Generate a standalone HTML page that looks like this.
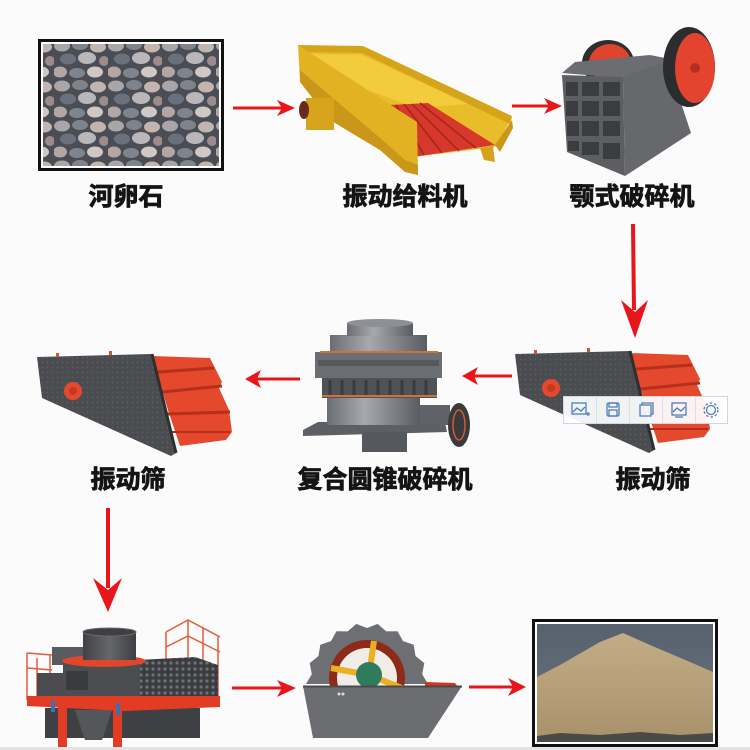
<!DOCTYPE html>
<html><head><meta charset="utf-8">
<style>
html,body{margin:0;padding:0;background:#fbfbfb;}
svg{display:block}
text{font-family:"Liberation Sans","Noto Sans CJK SC","WenQuanYi Zen Hei",sans-serif;font-weight:bold;font-size:25px;fill:#141414;stroke:#141414;stroke-width:0.8px;text-anchor:middle}
</style></head><body>
<svg width="750" height="750" viewBox="0 0 750 750" xmlns="http://www.w3.org/2000/svg">
<defs>
<pattern id="peb" width="54" height="40" patternUnits="userSpaceOnUse">
<rect width="54" height="40" fill="#4a4d53"/>
<ellipse cx="8" cy="6" rx="8" ry="5.5" fill="#a8a6a8"/>
<ellipse cx="26" cy="5" rx="8" ry="5" fill="#7f848c"/>
<ellipse cx="44" cy="7" rx="8" ry="5.5" fill="#c2b5b0"/>
<ellipse cx="14" cy="19" rx="8" ry="5.5" fill="#6a717c"/>
<ellipse cx="33" cy="18" rx="9" ry="6" fill="#b9b7ba"/>
<ellipse cx="50" cy="21" rx="5" ry="5" fill="#9d8a8a"/>
<ellipse cx="6" cy="32" rx="7" ry="5.5" fill="#b3a7a5"/>
<ellipse cx="23" cy="33" rx="8" ry="5" fill="#7e858f"/>
<ellipse cx="41" cy="32" rx="8" ry="5.5" fill="#d0c8c4"/>
</pattern>
<pattern id="holes" width="6" height="6" patternUnits="userSpaceOnUse">
<rect width="6" height="6" fill="#3b3c3f"/><circle cx="3" cy="3" r="1.6" fill="#6f7175"/>
</pattern>
<pattern id="dots" width="5" height="5" patternUnits="userSpaceOnUse">
<rect width="5" height="5" fill="#4b4c50"/><circle cx="2.5" cy="2.5" r="0.7" fill="#606266"/>
</pattern>
<linearGradient id="cyl" x1="0" x2="1"><stop offset="0" stop-color="#6a6e74"/><stop offset="0.4" stop-color="#a6aaaf"/><stop offset="1" stop-color="#595d63"/></linearGradient>
<linearGradient id="cyl2" x1="0" x2="1"><stop offset="0" stop-color="#414245"/><stop offset="0.5" stop-color="#66676a"/><stop offset="1" stop-color="#3e3f42"/></linearGradient>
<linearGradient id="sky" x1="0" y1="0" x2="0" y2="1"><stop offset="0" stop-color="#56616d"/><stop offset="1" stop-color="#6d7782"/></linearGradient>
<linearGradient id="sand" x1="0" y1="0" x2="0" y2="1"><stop offset="0" stop-color="#c2ad86"/><stop offset="1" stop-color="#a8916a"/></linearGradient>
<g id="vs">
<polygon points="152,356 210,358 214,366 222,382 219,388 229,410 232,432 226,440 180,446 168,410" fill="#e4492d"/>
<polyline points="158,372 214,368" stroke="#b5301c" stroke-width="3" fill="none"/>
<polyline points="162,392 222,386" stroke="#b5301c" stroke-width="3" fill="none"/>
<polyline points="167,414 230,412" stroke="#b5301c" stroke-width="3" fill="none"/>
<polyline points="172,432 230,432" stroke="#b5301c" stroke-width="2" fill="none"/>
<polygon points="37,357 152,354 176,453 171,456 42,398" fill="url(#dots)"/>
<line x1="152" y1="354" x2="176" y2="453" stroke="#2e2f31" stroke-width="3"/>
<rect x="56" y="353" width="3" height="4" fill="#d0553a"/>
<rect x="109" y="351" width="3" height="4" fill="#d0553a"/>
<circle cx="73" cy="391" r="9" fill="#e4492d"/><circle cx="73" cy="391" r="4" fill="#c23a22"/>
</g>
</defs>

<!-- pebbles -->
<rect x="39.5" y="40.5" width="183" height="129" fill="#fff" stroke="#111" stroke-width="3"/>
<rect x="43" y="44" width="176" height="122" fill="url(#peb)"/>

<!-- vibrating feeder -->
<polygon points="300,50 363,48 512,118 495,147 413,157 380,130 300,80" fill="#e9bc2a"/>
<polygon points="298,45 363,46 512,116 510,124 362,53 300,52" fill="#d6a41a"/>
<polygon points="305,54 362,55 468,104 415,108 322,72" fill="#f2cc3c"/>
<polygon points="390,105 428,103 495,145 413,157" fill="#d6392b"/>
<g stroke="#a82418" stroke-width="1.5">
<line x1="396" y1="105" x2="424" y2="155"/><line x1="404" y1="104" x2="442" y2="153"/>
<line x1="412" y1="104" x2="459" y2="151"/><line x1="420" y1="103" x2="476" y2="148"/>
</g>
<polygon points="298,45 417,122 418,175 405,172 380,150 330,120 300,82" fill="#e2b222"/>
<polygon points="300,70 380,138 405,160 418,165 418,175 405,172 380,150 330,120 300,82" fill="#c9981a"/>
<polygon points="495,145 512,120 513,128 500,152" fill="#c9981a"/>
<polygon points="480,148 493,146 495,162 484,160" fill="#d4a31c"/>
<rect x="306" y="98" width="28" height="32" fill="#d8a41c"/>
<ellipse cx="304" cy="110" rx="5" ry="9" fill="#6b2a1c"/>

<!-- jaw crusher -->
<ellipse cx="608" cy="63" rx="26" ry="23" fill="#2e2f31"/>
<ellipse cx="610" cy="63" rx="21" ry="19" fill="#e0442f"/>
<polygon points="562,73 575,62 650,55 665,58 665,75 623,78" fill="#6b6d71"/>
<polygon points="623,77 665,62 680,100 691,133 625,176" fill="#66686c"/>
<polygon points="562,75 623,77 625,176 567,152" fill="#5c5e62"/>
<g fill="#3a3c3f">
<rect x="566" y="82" width="12" height="14"/><rect x="582" y="82" width="17" height="14"/><rect x="603" y="82" width="17" height="14"/>
<rect x="566" y="101" width="12" height="15"/><rect x="582" y="101" width="17" height="15"/><rect x="603" y="101" width="17" height="15"/>
<rect x="567" y="121" width="12" height="15"/><rect x="582" y="121" width="17" height="15"/><rect x="603" y="121" width="17" height="15"/>
<rect x="568" y="141" width="11" height="10"/><rect x="582" y="142" width="17" height="13"/><rect x="603" y="143" width="17" height="16"/>
</g>
<ellipse cx="689" cy="67" rx="26" ry="40" fill="#2b2c2e"/>
<ellipse cx="695" cy="68" rx="20" ry="35" fill="#e3432f"/>
<circle cx="695" cy="68" r="5" fill="#b33020"/>

<!-- labels row 1 -->
<text x="126" y="205">河卵石</text>
<text x="405" y="205">振动给料机</text>
<text x="632" y="205">颚式破碎机</text>

<!-- arrows -->
<g fill="#e8161b" stroke="none">
<rect x="233" y="106.5" width="50" height="3"/>
<polygon points="295,108 277,100 282,108 277,116"/>
<rect x="512" y="104.5" width="38" height="3"/>
<polygon points="562,106 544,98 549,106 544,114"/>
<polygon points="631,224 635,224 636,310 632,310"/>
<polygon points="635,338 621,300 635,312 648,300"/>
<rect x="474" y="374.5" width="38" height="3"/>
<polygon points="462,376 478,367 474,376 478,385"/>
<rect x="257" y="377.5" width="43" height="3"/>
<polygon points="245,379 261,370 257,379 261,388"/>
<rect x="106" y="508" width="4" height="80"/>
<polygon points="108,612 93,578 108,590 122,578"/>
<rect x="232" y="686.5" width="50" height="3"/>
<polygon points="296,688 277,680 282,688 277,697"/>
<rect x="469" y="685.5" width="44" height="3"/>
<polygon points="526,687 508,678 513,687 508,696"/>
</g>

<!-- vibrating screens -->
<use href="#vs"/>
<use href="#vs" transform="translate(478,-3)"/>

<!-- cone crusher -->
<polygon points="303,430 318,422 445,422 447,432 303,436" fill="#5c5f64"/>
<rect x="362" y="432" width="45" height="20" fill="#55585d"/>
<rect x="327" y="398" width="93" height="27" fill="url(#cyl)"/>
<rect x="420" y="405" width="30" height="20" fill="#5f6267"/>
<rect x="322" y="378" width="115" height="20" fill="#4f5257"/>
<g stroke="#3a3c40" stroke-width="3">
<line x1="330" y1="380" x2="330" y2="397"/><line x1="342" y1="380" x2="342" y2="397"/><line x1="354" y1="380" x2="354" y2="397"/><line x1="366" y1="380" x2="366" y2="397"/><line x1="378" y1="380" x2="378" y2="397"/><line x1="390" y1="380" x2="390" y2="397"/><line x1="402" y1="380" x2="402" y2="397"/><line x1="414" y1="380" x2="414" y2="397"/><line x1="426" y1="380" x2="426" y2="397"/>
</g>
<line x1="322" y1="396" x2="437" y2="396" stroke="#d0703a" stroke-width="2"/>
<rect x="315" y="352" width="127" height="26" fill="#6b6e73"/>
<rect x="318" y="360" width="121" height="6" fill="#55585d"/>
<rect x="330" y="335" width="97" height="17" fill="url(#cyl)"/>
<line x1="320" y1="352" x2="438" y2="352" stroke="#d0703a" stroke-width="2"/>
<rect x="347" y="323" width="66" height="13" fill="url(#cyl)"/>
<ellipse cx="380" cy="323" rx="33" ry="4" fill="#8d9196"/>
<ellipse cx="459" cy="425" rx="11" ry="22" fill="#3a3a3c"/>
<ellipse cx="459" cy="425" rx="6" ry="15" fill="none" stroke="#c8602e" stroke-width="1.5"/>

<!-- toolbar overlay -->
<rect x="563.5" y="396.5" width="164" height="27" fill="#fff" fill-opacity="0.93" stroke="#c9d8ea"/>
<g stroke="#d5e1ee"><line x1="596.5" y1="397" x2="596.5" y2="423"/><line x1="629.5" y1="397" x2="629.5" y2="423"/><line x1="662.5" y1="397" x2="662.5" y2="423"/><line x1="695.5" y1="397" x2="695.5" y2="423"/></g>
<g stroke="#4a7fc0" stroke-width="1.3" fill="none">
<rect x="572" y="403" width="14" height="11"/><polyline points="573,412 577,408 581,411 585,407"/><line x1="586" y1="414" x2="590" y2="414"/><line x1="588" y1="412" x2="588" y2="416"/>
<rect x="607" y="403" width="12" height="13" rx="1.5"/><rect x="609" y="403" width="8" height="4"/><rect x="609" y="410" width="8" height="6"/>
<rect x="640" y="405" width="11" height="11"/><polyline points="642,405 642,403 653,403 653,414 651,414"/>
<rect x="672" y="403" width="14" height="12"/><polyline points="673,412 677,408 681,411 685,407"/><line x1="675" y1="417" x2="683" y2="417"/>
<circle cx="711" cy="410" r="4.5"/><circle cx="711" cy="410" r="7" stroke-dasharray="2.5 2"/>
</g>

<!-- labels row 2 -->
<text x="128" y="488">振动筛</text>
<text x="385" y="488">复合圆锥破碎机</text>
<text x="653" y="488">振动筛</text>

<!-- sand maker -->
<g stroke="#e55a3c" stroke-width="1.5" fill="none">
<line x1="166" y1="632" x2="166" y2="697"/><line x1="188" y1="620" x2="188" y2="697"/><line x1="203" y1="628" x2="203" y2="697"/><line x1="218" y1="637" x2="218" y2="697"/>
<polyline points="166,632 188,620 220,637"/><polyline points="166,647 188,636 220,652"/>
<line x1="27" y1="653" x2="27" y2="700"/><line x1="37" y1="658" x2="37" y2="700"/><line x1="50" y1="655" x2="50" y2="690"/>
<polyline points="27,653 52,655"/><polyline points="27,668 52,670"/>
</g>
<polygon points="138,660 195,657 218,665 218,698 138,698" fill="url(#holes)"/>
<rect x="37" y="673" width="30" height="24" fill="#4a4b4e"/>
<rect x="52" y="647" width="31" height="18" fill="#5a5b5e"/>
<rect x="63" y="660" width="77" height="37" fill="#4c4d50"/>
<rect x="66" y="671" width="22" height="19" fill="#3a3b3d"/>
<ellipse cx="104" cy="661" rx="42" ry="6" fill="#e0462b"/>
<rect x="83" y="632" width="53" height="28" fill="url(#cyl2)"/>
<ellipse cx="109.5" cy="632" rx="26.5" ry="4" fill="#3e3f42" stroke="#6a6b6e"/>
<rect x="45" y="708" width="155" height="30" fill="#3f4043"/>
<polygon points="75,710 112,710 102,740 85,740" fill="#55565a"/>
<polygon points="27,696 220,696 220,707 125,711 27,706" fill="#e23d24"/>
<rect x="58" y="706" width="9" height="44" fill="#e23d24"/>
<rect x="113" y="708" width="9" height="42" fill="#e23d24"/>
<rect x="51" y="700" width="4" height="12" fill="#3f6fb0"/><rect x="116" y="703" width="4" height="12" fill="#3f6fb0"/>

<!-- sand washer -->
<polygon points="306,684 311.8,674.3 309.7,663.1 318.5,656 320.3,644.8 331,641.1 336.5,631.2 347.8,631.4 356.4,623.9 367,628 377.6,623.9 386.2,631.4 397.5,631.2 403,641.1 413.7,644.8 415.5,656 424.3,663.1 422.2,674.3 428,684" fill="#6e6f72"/>
<circle cx="367" cy="678" r="38" fill="#8e2a1a"/>
<circle cx="367" cy="678" r="30" fill="#f2ece8"/>
<g stroke="#e9b122" stroke-width="6"><line x1="369" y1="675" x2="374" y2="641"/><line x1="369" y1="675" x2="331" y2="668"/><line x1="369" y1="675" x2="402" y2="688"/></g>
<circle cx="369" cy="675" r="13" fill="#2f7b5e"/>
<polygon points="425,682 455,683 458,687 425,687" fill="#d6331f"/>
<polygon points="303,686 462,686 428,738 313,738" fill="#6c6d70"/>
<line x1="303" y1="686.5" x2="462" y2="686.5" stroke="#4a4b4d" stroke-width="2"/>
<circle cx="339" cy="694" r="1.5" fill="#ddd"/><circle cx="343" cy="694" r="1.5" fill="#ddd"/>

<!-- sand photo -->
<rect x="533.5" y="620.5" width="183" height="125" fill="#fff" stroke="#111" stroke-width="3"/>
<rect x="537" y="624" width="176" height="118" fill="url(#sky)"/>
<polygon points="537,677 560,665 600,642 623,633 650,645 690,662 713,672 713,742 537,742" fill="url(#sand)"/>
<polygon points="537,736 560,733 600,735 640,732 680,735 713,733 713,742 537,742" fill="#4b4a46"/>

<rect x="0" y="747" width="750" height="3" fill="#e4e4e4"/>
</svg>
</body></html>
